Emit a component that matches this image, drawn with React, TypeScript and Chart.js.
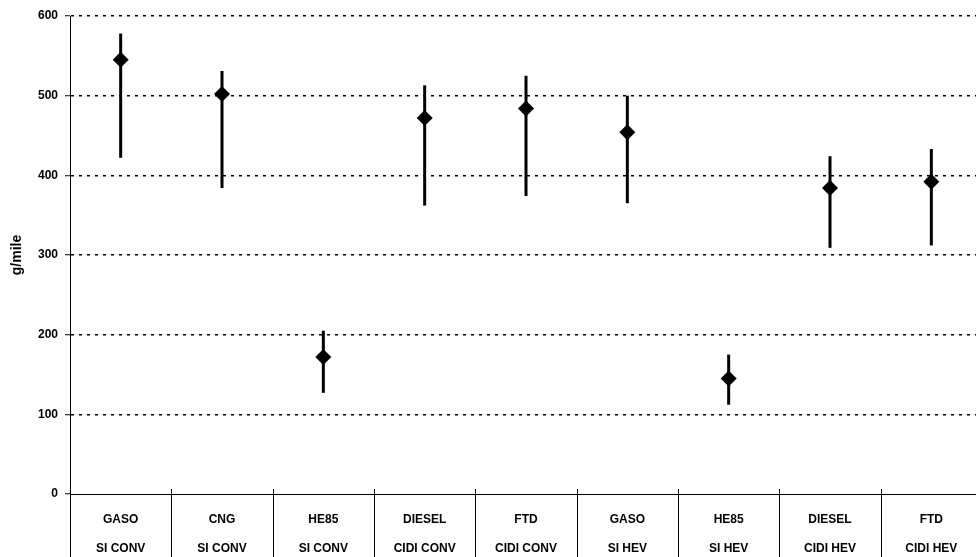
import React, { useEffect, useRef } from "react";
import { Chart, registerables } from "chart.js";

Chart.register(...registerables);

const fuels = ["GASO", "CNG", "HE85", "DIESEL", "FTD", "GASO", "HE85", "DIESEL", "FTD"];
const powertrains = ["SI CONV", "SI CONV", "SI CONV", "CIDI CONV", "CIDI CONV", "SI HEV", "SI HEV", "CIDI HEV", "CIDI HEV"];
const midValues = [545, 502, 172, 472, 484, 454, 145, 384, 392];
const lowValues = [422, 384, 127, 362, 374, 365, 112, 309, 312];
const highValues = [578, 531, 205, 513, 525, 500, 175, 424, 433];
const yTicks = [0, 100, 200, 300, 400, 500, 600];

const FONT = "'Liberation Sans', Arial, sans-serif";

const errorBarPlugin = {
  id: "errorBars",
  beforeDatasetsDraw(chart: any) {
    const { ctx, scales } = chart;
    const x = scales.x;
    const y = scales.y;
    ctx.save();
    ctx.strokeStyle = "#000";
    ctx.lineWidth = 3;
    ctx.lineCap = "butt";
    for (let i = 0; i < midValues.length; i++) {
      const px = x.getPixelForValue(i);
      ctx.beginPath();
      ctx.moveTo(px, y.getPixelForValue(lowValues[i]));
      ctx.lineTo(px, y.getPixelForValue(highValues[i]));
      ctx.stroke();
    }
    ctx.restore();
  },
};

const separatorPlugin = {
  id: "separators",
  afterDraw(chart: any) {
    const { ctx, scales } = chart;
    const x = scales.x;
    const n = fuels.length;
    const w = (x.right - x.left) / n;
    ctx.save();
    ctx.strokeStyle = "#000";
    ctx.lineWidth = 1;
    for (let i = 0; i <= n; i++) {
      const px = Math.round(x.left + i * w) + 0.5;
      ctx.beginPath();
      ctx.moveTo(px, x.top - 5);
      ctx.lineTo(px, chart.height);
      ctx.stroke();
    }
    ctx.beginPath();
    ctx.moveTo(x.left, Math.round(x.top) + 0.5);
    ctx.lineTo(x.right, Math.round(x.top) + 0.5);
    ctx.stroke();
    ctx.restore();
  },
};

export default function App() {
  const ref = useRef<HTMLCanvasElement | null>(null);
  useEffect(() => {
    if (!ref.current) return;
    const labels = fuels.map((f, i) => [f, powertrains[i]]);
    const chart = new Chart(ref.current, {
      type: "line",
      data: {
        labels,
        datasets: [
          {
            data: midValues,
            showLine: false,
            pointStyle: "rectRot",
            pointRadius: 8,
            pointHoverRadius: 8,
            pointBackgroundColor: "#000",
            pointBorderColor: "#000",
            pointBorderWidth: 0,
          },
        ],
      },
      options: {
        responsive: false,
        animation: false,
        events: [],
        layout: { padding: { top: 16, right: 5, left: 0, bottom: 0 } },
        plugins: { legend: { display: false }, tooltip: { enabled: false } },
        scales: {
          x: {
            offset: true,
            grid: { display: false },
            border: { display: true, color: "#000", width: 1 },
            ticks: {
              color: "#000",
              padding: 3.5,
              maxRotation: 0,
              autoSkip: false,
              font: { family: FONT, size: 12, weight: "bold", lineHeight: 29 / 12 },
            },
          },
          y: {
            min: 0,
            max: 600,
            afterFit: (s: any) => {
              s.width = 70;
            },
            afterBuildTicks: (s: any) => {
              s.ticks = yTicks.map((v) => ({ value: v }));
            },
            grid: {
              color: (c: any) => (c.tick && c.tick.value === 0 ? "rgba(0,0,0,0)" : "#000"),
              lineWidth: 1.5,
              drawTicks: true,
              tickLength: 5,
              tickColor: "#000",
              tickWidth: 1,
            },
            border: { display: true, color: "#000", width: 1, dash: [3, 5] },
            ticks: {
              color: "#000",
              padding: 7,
              font: { family: FONT, size: 12, weight: "bold" },
            },
            title: {
              display: true,
              text: "g/mile",
              color: "#000",
              padding: { top: 9, bottom: 0 },
              font: { family: FONT, size: 14, weight: "bold" },
            },
          },
        },
      },
      plugins: [errorBarPlugin, separatorPlugin],
    });
    return () => chart.destroy();
  }, []);
  return (
    <div
      style={{
        position: "absolute",
        left: 0,
        top: 0,
        width: 976,
        height: 557,
        overflow: "hidden",
        background: "#fff",
      }}
    >
      <canvas ref={ref} width={990} height={567} style={{ display: "block" }} />
    </div>
  );
}
